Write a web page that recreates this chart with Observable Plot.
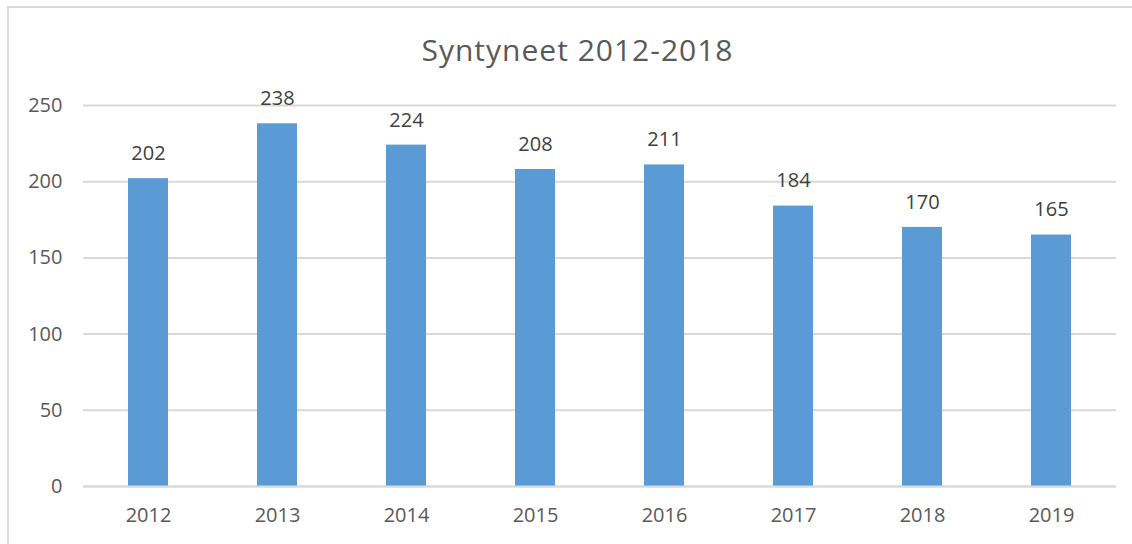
<!DOCTYPE html>
<html>
<head>
<meta charset="utf-8">
<script src="https://cdn.jsdelivr.net/npm/d3@7"></script>
<script src="https://cdn.jsdelivr.net/npm/@observablehq/plot@0.6"></script>
<style>
  html, body { margin: 0; padding: 0; background: #fff; }
  #wrap { position: relative; width: 1132px; height: 544px; overflow: hidden; font-family: "Open Sans", sans-serif; }
  #frame { position: absolute; left: 7px; top: 6px; width: 1140px; height: 560px; border: 2px solid #d9d9d9; box-sizing: border-box; }
  #title { position: absolute; left: 0; top: 30px; width: 1155px; height: 40px; line-height: 40px; text-align: center; font-size: 30px; letter-spacing: 1px; color: #595959; }
  #chart { position: absolute; left: 0; top: 70px; }
</style>
</head>
<body>
<div id="wrap">
  <div id="frame"></div>
  <div id="title">Syntyneet 2012-2018</div>
  <div id="chart"></div>
</div>
<script>
const years = ["2012", "2013", "2014", "2015", "2016", "2017", "2018", "2019"];
const births = [202, 238, 224, 208, 211, 184, 170, 165];
const yTicks = [0, 50, 100, 150, 200, 250];

const data = years.map((y, i) => ({year: y, value: births[i]}));

const chart = Plot.plot({
  width: 1132,
  height: 474,
  marginLeft: 83,
  marginRight: 16,
  marginTop: 35,
  marginBottom: 58,
  style: { fontFamily: "'Open Sans', sans-serif", fontSize: "20px", color: "#595959", background: "transparent" },
  x: { domain: years, paddingInner: 0.69, paddingOuter: 0.345, label: null },
  y: { domain: [0, 250], label: null },
  marks: [
    Plot.gridY(yTicks, { stroke: "#d9d9d9", strokeWidth: 2, strokeOpacity: 1 }),
    Plot.barY(data, { x: "year", y: "value", fill: "#5b9bd5" }),
    Plot.ruleY([0], { stroke: "#d9d9d9", strokeWidth: 2 }),
    Plot.text(data, { x: "year", y: "value", text: d => String(d.value), dy: -25, fill: "#404040", fontSize: 20 }),
    Plot.axisX({ tickSize: 0, tickPadding: 21, fontSize: 20, fill: "#595959" }),
    Plot.axisY(yTicks, { tickSize: 0, tickPadding: 21, fontSize: 20, fill: "#595959" })
  ]
});
document.getElementById("chart").appendChild(chart);
</script>
</body>
</html>
